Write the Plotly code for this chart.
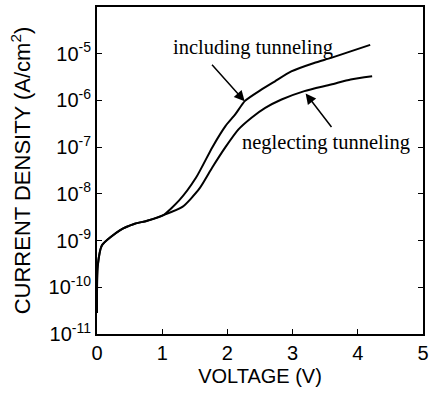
import plotly.graph_objects as go

common_v = [0.0, 0.01, 0.076, 0.35, 0.58, 0.76, 1.01]
common_log = [-10.55, -9.56, -9.10, -8.78, -8.64, -8.58, -8.46]

incl_v = [1.26, 1.52, 1.77, 1.97, 2.12, 2.27, 2.52, 2.73, 2.98, 3.33, 3.59, 3.89, 4.19]
incl_log = [-8.14, -7.65, -7.0, -6.55, -6.30, -6.01, -5.77, -5.59, -5.38, -5.2, -5.09, -4.95, -4.81]

negl_v = [1.31, 1.57, 1.77, 1.97, 2.17, 2.37, 2.58, 2.83, 3.18, 3.59, 3.89, 4.22]
negl_log = [-8.28, -7.89, -7.43, -7.0, -6.62, -6.37, -6.16, -5.98, -5.80, -5.66, -5.55, -5.48]

y_tick_exp = [-11, -10, -9, -8, -7, -6, -5]
x_ticks = [0, 1, 2, 3, 4, 5]

sans = "Liberation Sans"
serif = "Liberation Serif"

fig = go.Figure()
for v, lg in [(common_v + incl_v, common_log + incl_log), (common_v + negl_v, common_log + negl_log)]:
    fig.add_trace(go.Scatter(x=v, y=[10 ** e for e in lg], mode="lines",
                             line=dict(color="black", width=2, shape="spline", smoothing=0.6),
                             showlegend=False))

fig.update_xaxes(range=[0, 5], tickvals=x_ticks, ticks="inside", ticklen=5, tickcolor="black",
                 showline=True, linecolor="black", linewidth=2, mirror=True, showgrid=False,
                 zeroline=False, tickfont=dict(family=sans, size=20, color="black"),
                 title=dict(text="VOLTAGE (V)", font=dict(family=sans, size=20, color="black"),
                            standoff=6))
fig.update_yaxes(type="log", range=[-11, -4], tickvals=[10 ** e for e in y_tick_exp],
                 ticktext=["10<sup>%d</sup>" % e for e in y_tick_exp],
                 ticks="inside", ticklen=5, tickcolor="black",
                 showline=True, linecolor="black", linewidth=2, mirror="ticks", showgrid=False,
                 zeroline=False, tickfont=dict(family=sans, size=20, color="black"),
                 title=dict(text="CURRENT DENSITY (A/cm<sup>2</sup>)",
                            font=dict(family=sans, size=22, color="black"), standoff=12))

fig.add_annotation(x=2.265, y=-6.02, ax=-34, ay=-38, text="", showarrow=True,
                   arrowhead=2, arrowsize=1.4, arrowwidth=1.5, arrowcolor="black")
fig.add_annotation(x=3.20, y=-5.85, ax=27, ay=35, text="", showarrow=True,
                   arrowhead=2, arrowsize=1.4, arrowwidth=1.5, arrowcolor="black")
fig.add_annotation(x=(254 - 96.5) / 66, y=-11 + (334 - 46) / 47, text="including tunneling",
                   showarrow=False, font=dict(family=serif, size=20.5, color="black"))
fig.add_annotation(x=(328 - 96.5) / 66, y=-11 + (334 - 141) / 47, text="neglecting tunneling",
                   showarrow=False, font=dict(family=serif, size=20.5, color="black"))

fig.update_layout(width=434, height=399, margin=dict(l=97, r=8, t=5, b=65),
                  plot_bgcolor="white", paper_bgcolor="white")
fig.write_html("out.html")
